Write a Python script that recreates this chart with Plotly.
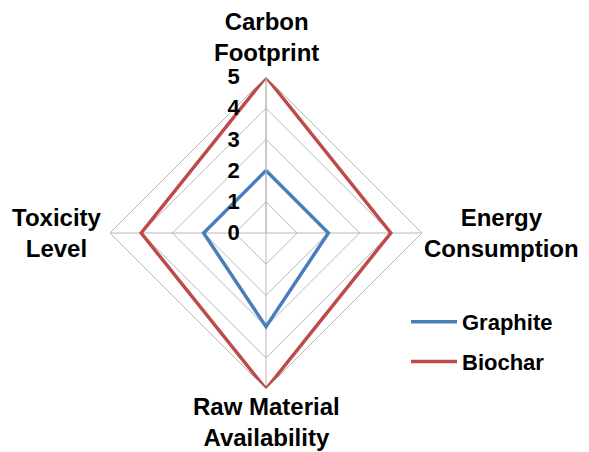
import plotly.graph_objects as go

categories = ["Carbon<br>Footprint", "Energy<br>Consumption", "Raw Material<br>Availability", "Toxicity<br>Level"]
graphite = [2, 2, 3, 2]
biochar = [5, 4, 5, 4]
series_names = ["Graphite", "Biochar"]
tick_vals = [0, 1, 2, 3, 4, 5]

FONT = "Liberation Sans, Arial, sans-serif"
colors = ["#4A7EBB", "#BE4B48"]
GRID = "#B8B8B8"

# page body has an 8px margin; figure is sized so it fills the 589x452 window
OFF = 8
W, H = 589 - OFF, 452 - OFF

def px_x(sx):
    return (sx - OFF) / W

def px_y(sy):
    return 1 - (sy - OFF) / H

fig = go.Figure()
for i, (name, vals) in enumerate(zip(series_names, [graphite, biochar])):
    fig.add_trace(go.Scatterpolar(
        r=vals + vals[:1],
        theta=categories + categories[:1],
        mode="lines",
        name=name,
        legendgroup=name,
        line=dict(color=colors[i], width=3.5),
    ))

# category labels placed around the chart (centred multi-line text), screen px
label_pos = [(266, 37), (502, 233), (266, 422), (57, 233)]
annotations = []
for cat, (sx, sy) in zip(categories, label_pos):
    annotations.append(dict(
        text=cat, x=px_x(sx), y=px_y(sy), xref="paper", yref="paper",
        xanchor="center", yanchor="middle", showarrow=False, align="center",
        font=dict(family=FONT, size=24, color="black", weight="bold"),
    ))

cx, cy, R = 266, 233, 156
fig.update_layout(
    width=W, height=H,
    margin=dict(l=0, r=0, t=0, b=0),
    paper_bgcolor="white",
    plot_bgcolor="white",
    font=dict(family=FONT, size=20, color="black", weight="bold"),
    annotations=annotations,
    polar=dict(
        domain=dict(x=[px_x(cx - R), px_x(cx + R)], y=[px_y(cy + R), px_y(cy - R)]),
        bgcolor="white",
        gridshape="linear",
        radialaxis=dict(
            range=[0, 5], tickvals=tick_vals, angle=90, tickangle=90,
            showline=True, linecolor=GRID, linewidth=1,
            gridcolor=GRID, gridwidth=1,
            ticks="outside", ticklen=18, tickcolor="rgba(0,0,0,0)",
            tickfont=dict(family=FONT, size=22, color="black", weight="bold"),
            side="counterclockwise",
        ),
        angularaxis=dict(
            rotation=90, direction="clockwise",
            showline=True, linecolor=GRID, linewidth=1,
            gridcolor=GRID, gridwidth=1, ticks="",
            showticklabels=False,
        ),
    ),
    showlegend=True,
    legend=dict(
        x=px_x(406), y=px_y(301), xanchor="left", yanchor="top",
        font=dict(family=FONT, size=22, color="black", weight="bold"),
        tracegroupgap=8, itemwidth=46, bgcolor="rgba(0,0,0,0)",
    ),
)

fig.write_html("out.html")
